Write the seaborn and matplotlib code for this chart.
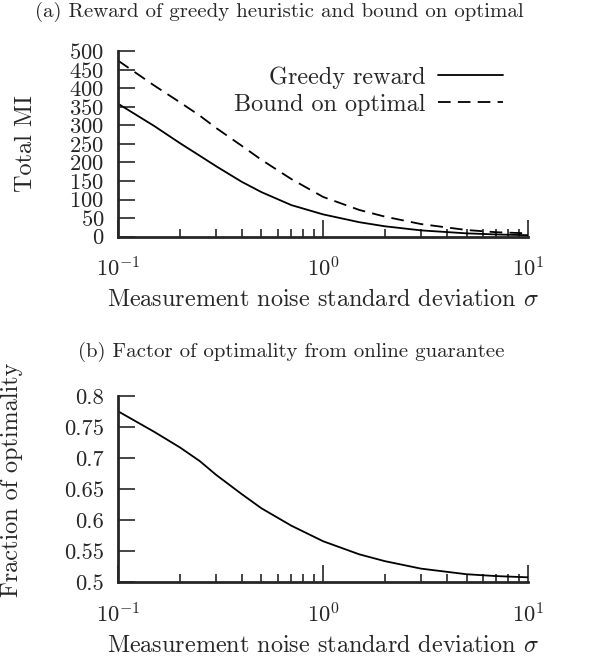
import matplotlib
matplotlib.use("Agg")
import matplotlib.pyplot as plt
import seaborn as sns
import pandas as pd
from matplotlib.ticker import LogLocator, MultipleLocator, NullFormatter, FuncFormatter

# values
sigma = [0.1, 0.15, 0.2, 0.25, 0.3, 0.4, 0.5, 0.7, 1.0, 1.5, 2.0, 3.0, 5.0, 7.0, 10.0]
greedy = [358, 298, 252, 218, 190, 148, 120, 85, 60, 39, 28, 17, 9, 6, 4]
bound = [474, 407, 362, 326, 293, 245, 207, 155, 107, 72, 54, 34, 18, 12, 9]
fraction = [0.775, 0.742, 0.717, 0.695, 0.673, 0.642, 0.619, 0.591, 0.566, 0.545,
            0.534, 0.522, 0.513, 0.510, 0.508]

sns.set_style("ticks")
plt.rcParams["font.family"] = ["cmr10"]
plt.rcParams["mathtext.fontset"] = "cm"
plt.rcParams["axes.formatter.use_mathtext"] = True

LABEL_FS = 17.4
TICK_FS = 16.3
TITLE_FS = 15

df_top = pd.DataFrame({"sigma": sigma * 2,
                       "value": greedy + bound,
                       "series": ["Greedy reward"] * len(sigma) + ["Bound on optimal"] * len(sigma)})
df_bot = pd.DataFrame({"sigma": sigma, "fraction": fraction})

fig = plt.figure(figsize=(6.03, 6.63), dpi=100)
ax1 = fig.add_axes([0.196, 0.643, 0.680, 0.280])
ax2 = fig.add_axes([0.196, 0.1217, 0.680, 0.2813])

sns.lineplot(data=df_top, x="sigma", y="value", style="series",
             dashes={"Greedy reward": "", "Bound on optimal": (7, 4)},
             color="black", linewidth=1.3, ax=ax1)
sns.lineplot(data=df_bot, x="sigma", y="fraction", color="black", linewidth=1.3, ax=ax2)

for ax in (ax1, ax2):
    ax.set_xscale("log")
    ax.set_xlim(0.1, 10)
    ax.xaxis.set_major_locator(LogLocator(base=10, numticks=5))
    ax.xaxis.set_minor_locator(LogLocator(base=10, subs=range(2, 10), numticks=10))
    ax.xaxis.set_minor_formatter(NullFormatter())
    ax.tick_params(which="major", direction="in", length=12, width=1.2, labelsize=TICK_FS)
    ax.tick_params(which="minor", direction="in", length=6, width=1.2)
    ax.tick_params(axis="x", which="major", pad=14)
    ax.tick_params(axis="y", which="major", pad=10)
    for s in ("top", "right"):
        ax.spines[s].set_visible(False)
    for s in ("left", "bottom"):
        ax.spines[s].set_linewidth(2)
    ax.set_xlabel(r"Measurement noise standard deviation $\sigma$", fontsize=LABEL_FS)
    ax.xaxis.set_label_coords(0.5, -0.28)

ax1.set_ylim(0, 500)
ax1.yaxis.set_major_locator(MultipleLocator(50))
ax1.set_ylabel("Total MI", fontsize=LABEL_FS)
ax1.yaxis.set_label_coords(-0.198, 0.5)

ax2.set_ylim(0.5, 0.8)
ax2.yaxis.set_major_locator(MultipleLocator(0.05))
ax2.yaxis.set_major_formatter(FuncFormatter(lambda v, p: f"{v:g}"))
ax2.set_ylabel("Fraction of optimality", fontsize=LABEL_FS)
ax2.yaxis.set_label_coords(-0.232, 0.55)

leg = ax1.legend(loc="upper right", bbox_to_anchor=(0.938, 0.918), frameon=False, markerfirst=False,
                 handlelength=2.7, handletextpad=0.5, labelspacing=0.2, borderpad=0,
                 borderaxespad=0, fontsize=LABEL_FS)
for line in leg.get_lines():
    line.set_linewidth(1.3)

fig.text(279 / 603, 1 - 12 / 663, "(a) Reward of greedy heuristic and bound on optimal",
         ha="center", va="center", fontsize=TITLE_FS)
fig.text(291 / 603, 1 - 352 / 663, "(b) Factor of optimality from online guarantee",
         ha="center", va="center", fontsize=TITLE_FS)

fig.savefig("out.png", dpi=100)
